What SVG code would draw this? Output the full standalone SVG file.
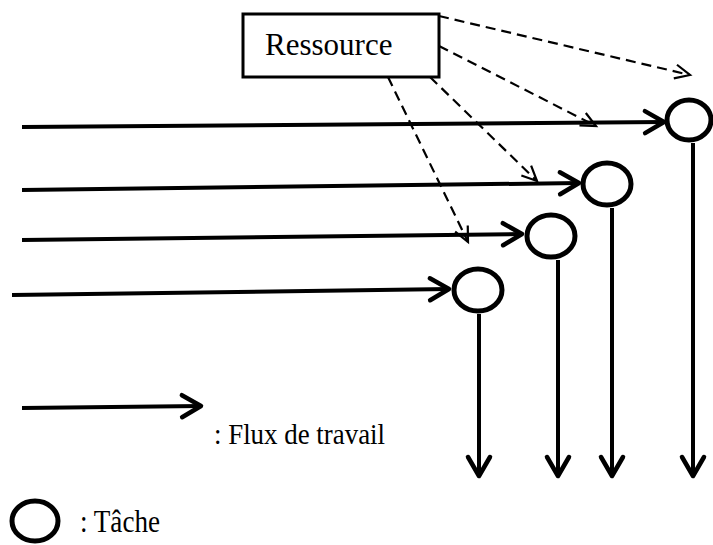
<svg xmlns="http://www.w3.org/2000/svg" width="713" height="545" viewBox="0 0 713 545">
  <style>
    .flow { fill: none; stroke: #000; stroke-width: 4; marker-end: url(#head); }
    .use { fill: none; stroke: #000; stroke-width: 2.2; stroke-dasharray: 10 6; marker-end: url(#headDash); }
    .task { fill: #fff; stroke: #000; stroke-width: 5; }
    .box { fill: #fff; stroke: #000; stroke-width: 3; }
    .label { font-family: "Liberation Serif", "Times New Roman", serif; fill: #000; }
  </style>
  <defs>
    <marker id="head" markerUnits="userSpaceOnUse" viewBox="-24 -14 28 28" markerWidth="28" markerHeight="28" refX="0" refY="0" orient="auto" overflow="visible">
      <path d="M -19 -11 L 0 0 L -19 11" fill="none" stroke="#000" stroke-width="4.5" stroke-linecap="round" stroke-linejoin="round"/>
    </marker>
    <marker id="headDash" markerUnits="userSpaceOnUse" viewBox="-18 -10 20 20" markerWidth="20" markerHeight="20" refX="0" refY="0" orient="auto" overflow="visible">
      <path d="M -15 -7 L 0 0 L -15 7" fill="none" stroke="#000" stroke-width="2.2"/>
    </marker>
  </defs>

  <!-- connectors: work flows and resource assignments -->
  <g id="connectors">
    <line class="flow" x1="22" y1="127" x2="664" y2="122"/>
    <line class="flow" x1="22" y1="190" x2="579" y2="183"/>
    <line class="flow" x1="22" y1="240" x2="522" y2="234"/>
    <line class="flow" x1="12" y1="295" x2="449" y2="289"/>

    <line class="flow" x1="479" y1="314" x2="479" y2="476"/>
    <line class="flow" x1="558" y1="260" x2="558" y2="476"/>
    <line class="flow" x1="612" y1="208" x2="612" y2="476"/>
    <line class="flow" x1="693" y1="143" x2="693" y2="476"/>

    <line class="use" x1="439" y1="16" x2="690" y2="75"/>
    <line class="use" x1="439" y1="46" x2="596" y2="126"/>
    <line class="use" x1="430" y1="77" x2="537" y2="181"/>
    <line class="use" x1="388" y1="77" x2="468" y2="242"/>
  </g>

  <!-- resource -->
  <g id="ressource">
    <rect class="box" x="243" y="14" width="196" height="63"/>
    <text class="label" x="265" y="55" font-size="31">Ressource</text>
  </g>

  <!-- tasks -->
  <g id="tache1">
    <ellipse class="task" cx="689" cy="120" rx="22" ry="20"/>
  </g>
  <g id="tache2">
    <ellipse class="task" cx="607" cy="184" rx="24" ry="21"/>
  </g>
  <g id="tache3">
    <ellipse class="task" cx="551" cy="236" rx="24" ry="21"/>
  </g>
  <g id="tache4">
    <ellipse class="task" cx="478" cy="290" rx="24" ry="21"/>
  </g>

  <!-- legend -->
  <g id="legende-flux">
    <line class="flow" x1="22" y1="408" x2="201" y2="406"/>
    <text class="label" x="214" y="444" font-size="30" textLength="171" lengthAdjust="spacingAndGlyphs">: Flux de travail</text>
  </g>
  <g id="legende-tache">
    <ellipse class="task" cx="35" cy="521" rx="23" ry="20" stroke-width="5.5"/>
    <text class="label" x="80" y="532" font-size="32" textLength="80" lengthAdjust="spacingAndGlyphs">: Tâche</text>
  </g>
</svg>
